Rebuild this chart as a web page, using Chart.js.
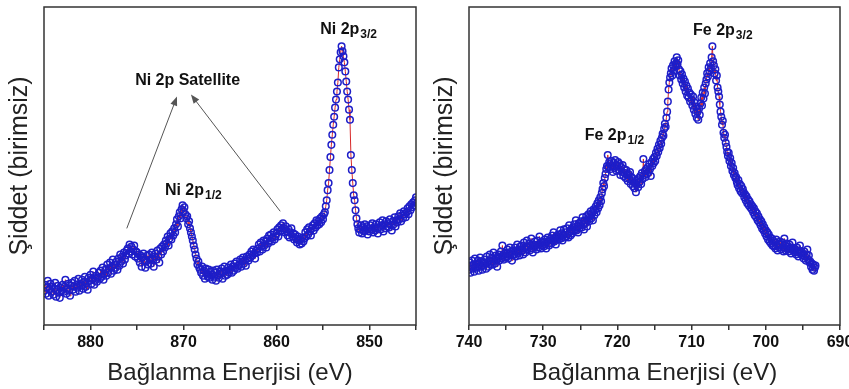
<!DOCTYPE html>
<html>
<head>
<meta charset="utf-8">
<script src="https://cdn.jsdelivr.net/npm/chart.js@4/dist/chart.umd.min.js"></script>
<style>
  html, body { margin: 0; padding: 0; background: #fff; overflow: hidden; }
  #wrap { position: relative; width: 849px; height: 389px; }
  .panel { position: absolute; top: 0; height: 389px; }
  #niBox { left: 0; width: 425px; }
  #feBox { left: 425px; width: 440px; }
</style>
</head>
<body>
<div id="wrap">
  <div class="panel" id="niBox"><canvas id="niChart"></canvas></div>
  <div class="panel" id="feBox"><canvas id="feChart"></canvas></div>
</div>
<script>
// Ni 2p spectrum, 885.0 -> 845.0 eV, 0.1 eV step (arbitrary intensity)
const niStart = 885.0;
const niStep = 0.1;
const niIntensity = [
  34, 40, 31, 37, 44, 29, 36, 41, 33, 38,
  30, 36, 42, 28, 35, 39, 32, 27, 37, 34,
  40, 33, 38, 45, 31, 36, 41, 34, 29, 39,
  42, 35, 38, 44, 33, 40, 37, 46, 34, 41,
  39, 45, 36, 43, 48, 38, 42, 35, 47, 44,
  50, 41, 46, 53, 40, 44, 49, 43, 47, 52,
  46, 54, 48, 57, 45, 51, 55, 49, 60, 52,
  56, 62, 51, 58, 65, 54, 60, 57, 63, 55,
  66, 59, 70, 63, 68, 61, 72, 65, 69, 74,
  76, 71, 80, 73, 78, 70, 75, 79, 68, 73,
  72, 66, 70, 62, 69, 58, 67, 71, 64, 57,
  63, 69, 60, 70, 65, 61, 72, 66, 58, 68,
  71, 65, 74, 68, 62, 76, 70, 78, 73, 80,
  77, 84, 81, 88, 79, 86, 91, 85, 93, 89,
  96, 92, 100, 105, 98, 108, 112, 106, 115, 119,
  113, 117, 110, 106, 108, 100, 103, 96, 92, 88,
  84, 79, 75, 70, 66, 60, 63, 57, 55, 52,
  58, 49, 54, 46, 56, 51, 48, 55, 47, 53,
  50, 45, 54, 48, 52, 44, 55, 49, 47, 53,
  51, 56, 46, 53, 58, 49, 54, 50, 57, 52,
  55, 60, 52, 58, 54, 61, 57, 63, 56, 59,
  60, 65, 58, 63, 67, 61, 64, 59, 68, 66,
  64, 70, 67, 73, 69, 75, 71, 66, 74, 72,
  76, 80, 73, 82, 78, 75, 84, 79, 83, 77,
  86, 81, 89, 84, 90, 83, 87, 92, 85, 88,
  91, 95, 88, 97, 93, 99, 94, 101, 96, 92,
  98, 93, 89, 95, 87, 92, 96, 88, 91, 85,
  90, 86, 82, 88, 84, 80, 85, 81, 87, 83,
  86, 92, 88, 95, 90, 97, 93, 89, 96, 99,
  94, 101, 97, 104, 99, 103, 100, 106, 102, 108,
  105, 110, 112, 118, 124, 134, 141, 154, 167, 179,
  189, 199, 207, 216, 224, 232, 241, 256, 264, 271,
  277, 272, 267, 261, 252, 242, 232, 224, 214, 204,
  169, 154, 141, 129, 124, 114, 106, 100, 96, 92,
  95, 99, 91, 97, 93, 100, 94, 98, 90, 96,
  93, 99, 95, 101, 92, 97, 94, 100, 96, 91,
  97, 102, 95, 99, 104, 93, 100, 96, 103, 98,
  101, 97, 105, 99, 94, 103, 100, 107, 98, 104,
  102, 108, 105, 111, 103, 109, 106, 113, 110, 107,
  112, 116, 110, 118, 114, 120, 117, 122, 119, 124,
  127
];

// Fe 2p spectrum, 740.0 -> 693.3 eV, 0.1 eV step
const feStart = 740.0;
const feStep = 0.1;
const feIntensity = [
  55, 62, 52, 59, 64, 56, 60, 53, 66, 58,
  61, 57, 64, 54, 60, 67, 58, 63, 55, 62,
  59, 65, 61, 56, 68, 62, 58, 64, 70, 60,
  63, 67, 60, 72, 65, 61, 69, 64, 58, 66,
  70, 64, 68, 73, 66, 79, 69, 65, 71, 67,
  72, 68, 75, 66, 71, 77, 69, 73, 64, 70,
  74, 70, 77, 68, 73, 80, 71, 75, 69, 78,
  73, 79, 74, 70, 82, 76, 72, 78, 84, 75,
  77, 81, 74, 79, 86, 76, 72, 80, 78, 83,
  79, 75, 84, 80, 77, 88, 81, 76, 83, 79,
  82, 78, 85, 80, 76, 83, 87, 81, 79, 84,
  86, 81, 89, 84, 92, 83, 87, 80, 88, 85,
  90, 85, 88, 94, 86, 91, 84, 89, 95, 87,
  92, 88, 96, 90, 87, 99, 93, 89, 95, 91,
  97, 93, 100, 95, 104, 94, 98, 92, 101, 96,
  99, 103, 97, 107, 100, 95, 104, 101, 108, 98,
  105, 110, 103, 108, 113, 106, 111, 104, 115, 109,
  114, 118, 112, 121, 116, 124, 119, 127, 123, 131,
  135, 141, 138, 146, 150, 155, 158, 169, 157, 162,
  160, 155, 163, 158, 152, 161, 156, 164, 159, 153,
  158, 162, 154, 160, 149, 157, 152, 159, 148, 155,
  151, 146, 154, 149, 143, 150, 145, 152, 140, 147,
  143, 138, 145, 136, 141, 132, 139, 144, 137, 146,
  142, 148, 140, 151, 145, 165, 149, 153, 147, 155,
  150, 157, 152, 160, 155, 148, 162, 158, 165, 161,
  167, 163, 171, 168, 175, 172, 179, 176, 183, 180,
  186, 190, 188, 195, 200, 197, 206, 212, 222, 234,
  241, 246, 250, 255, 248, 258, 253, 262, 257, 260,
  266, 259, 263, 254, 248, 252, 244, 249, 240, 245,
  236, 242, 232, 238, 228, 235, 226, 231, 222, 229,
  224, 218, 227, 214, 221, 210, 217, 206, 212, 204,
  215, 209, 220, 226, 218, 231, 225, 236, 230, 240,
  244, 250, 247, 256, 252, 260, 255, 266, 277, 262,
  258, 250, 254, 243, 248, 236, 232, 227, 219, 212,
  207, 199, 203, 191, 186, 189, 181, 177, 172, 168,
  171, 163, 166, 158, 161, 153, 156, 149, 151, 146,
  147, 142, 139, 144, 136, 140, 133, 138, 131, 135,
  132, 127, 130, 124, 128, 121, 125, 119, 123, 117,
  120, 115, 118, 112, 116, 109, 113, 107, 111, 104,
  108, 102, 105, 99, 103, 96, 100, 94, 97, 91,
  94, 88, 92, 85, 90, 83, 87, 81, 86, 79,
  84, 78, 82, 76, 85, 79, 74, 81, 77, 83,
  80, 75, 82, 77, 73, 86, 79, 74, 81, 76,
  78, 73, 80, 75, 71, 77, 82, 74, 76, 72,
  75, 70, 77, 72, 68, 74, 79, 71, 73, 69,
  71, 66, 73, 68, 64, 70, 75, 65, 69, 62,
  63, 58, 61, 55, 60, 54, 57, 59
];

const niTicks = [885, 880, 875, 870, 865, 860, 855, 850, 845];
const feTicks = [740, 735, 730, 725, 720, 715, 710, 705, 700, 695, 690];

// peak labels: [main text, subscript, energy, intensity] (left edge, baseline)
const niLabels = [
  ['Ni 2p', '3/2', 855.3, 289],
  ['Ni 2p', '1/2', 872.0, 129],
  ['Ni 2p Satellite', '', 875.2, 238]
];
const niArrows = [
  [876.1, 96, 870.7, 227],
  [859.6, 113, 869.2, 229]
];
const feLabels = [
  ['Fe 2p', '3/2', 709.8, 288],
  ['Fe 2p', '1/2', 724.4, 184]
];

const FONT = '"Liberation Sans", Arial, sans-serif';
const AXIS = '#333';

function toPoints(start, step, values) {
  return values.map((v, i) => ({ x: +(start - i * step).toFixed(1), y: v }));
}

function peakPlugin(labels, arrows) {
  return {
    id: 'peaks',
    afterDraw(chart) {
      const ctx = chart.ctx;
      const xs = chart.scales.x, ys = chart.scales.y;
      const a = chart.chartArea;
      ctx.save();
      // frame
      ctx.strokeStyle = AXIS;
      ctx.lineWidth = 1.5;
      ctx.strokeRect(a.left, a.top, a.right - a.left, a.bottom - a.top);
      // arrows
      ctx.strokeStyle = '#555';
      ctx.fillStyle = '#555';
      ctx.lineWidth = 1;
      arrows.forEach(ar => {
        const x1 = xs.getPixelForValue(ar[0]), y1 = ys.getPixelForValue(ar[1]);
        const x2 = xs.getPixelForValue(ar[2]), y2 = ys.getPixelForValue(ar[3]);
        const ang = Math.atan2(y2 - y1, x2 - x1);
        ctx.beginPath();
        ctx.moveTo(x1, y1);
        ctx.lineTo(x2 - 6 * Math.cos(ang), y2 - 6 * Math.sin(ang));
        ctx.stroke();
        ctx.beginPath();
        ctx.moveTo(x2, y2);
        ctx.lineTo(x2 - 9 * Math.cos(ang) + 3.5 * Math.sin(ang), y2 - 9 * Math.sin(ang) - 3.5 * Math.cos(ang));
        ctx.lineTo(x2 - 9 * Math.cos(ang) - 3.5 * Math.sin(ang), y2 - 9 * Math.sin(ang) + 3.5 * Math.cos(ang));
        ctx.closePath();
        ctx.fill();
      });
      // labels
      ctx.fillStyle = '#111';
      ctx.textBaseline = 'alphabetic';
      ctx.textAlign = 'left';
      labels.forEach(l => {
        const x = xs.getPixelForValue(l[2]), y = ys.getPixelForValue(l[3]);
        ctx.font = 'bold 16px ' + FONT;
        ctx.fillText(l[0], x, y);
        if (l[1]) {
          const w = ctx.measureText(l[0]).width;
          ctx.font = 'bold 12px ' + FONT;
          ctx.fillText(l[1], x + w + 1, y + 4);
        }
      });
      ctx.restore();
    }
  };
}

function makeConfig(points, tickVals, min, max, labels, arrows, padRight) {
  return {
    type: 'scatter',
    data: {
      datasets: [{
        data: points,
        showLine: true,
        borderColor: 'rgb(215, 40, 40)',
        borderWidth: 1,
        pointRadius: 3.3,
        pointBorderWidth: 1.5,
        pointBorderColor: 'rgb(30, 30, 200)',
        pointBackgroundColor: 'rgba(255,255,255,0)'
      }]
    },
    options: {
      responsive: true,
      maintainAspectRatio: false,
      animation: false,
      layout: { padding: { left: 5, right: padRight, top: 7, bottom: 1 } },
      plugins: { legend: { display: false }, tooltip: { enabled: false } },
      scales: {
        x: {
          type: 'linear',
          reverse: true,
          min: min,
          max: max,
          afterBuildTicks: s => { s.ticks = tickVals.map(v => ({ value: v })); },
          grid: { drawOnChartArea: false, drawTicks: true, tickLength: 5, color: AXIS, lineWidth: 1.5 },
          border: { display: false },
          ticks: {
            autoSkip: false,
            maxRotation: 0,
            padding: 3,
            color: '#111',
            font: { family: FONT, size: 16, weight: 'bold' },
            callback: v => (v % 10 === 0 ? String(v) : '')
          },
          title: {
            display: true,
            text: 'Bağlanma Enerjisi (eV)',
            color: '#222',
            font: { family: FONT, size: 24 },
            padding: { top: 4, bottom: 0 }
          }
        },
        y: {
          min: 0,
          max: 316,
          grid: { display: false },
          border: { display: false },
          ticks: { display: false },
          title: {
            display: true,
            text: 'Şiddet (birimsiz)',
            color: '#222',
            font: { family: FONT, size: 25 },
            padding: { top: 0, bottom: 1 }
          }
        }
      }
    },
    plugins: [peakPlugin(labels, arrows)]
  };
}

new Chart(
  document.getElementById('niChart'),
  makeConfig(toPoints(niStart, niStep, niIntensity), niTicks, 845, 885, niLabels, niArrows, 9)
);

new Chart(
  document.getElementById('feChart'),
  makeConfig(toPoints(feStart, feStep, feIntensity), feTicks, 690, 740, feLabels, [], 25)
);
</script>
</body>
</html>
